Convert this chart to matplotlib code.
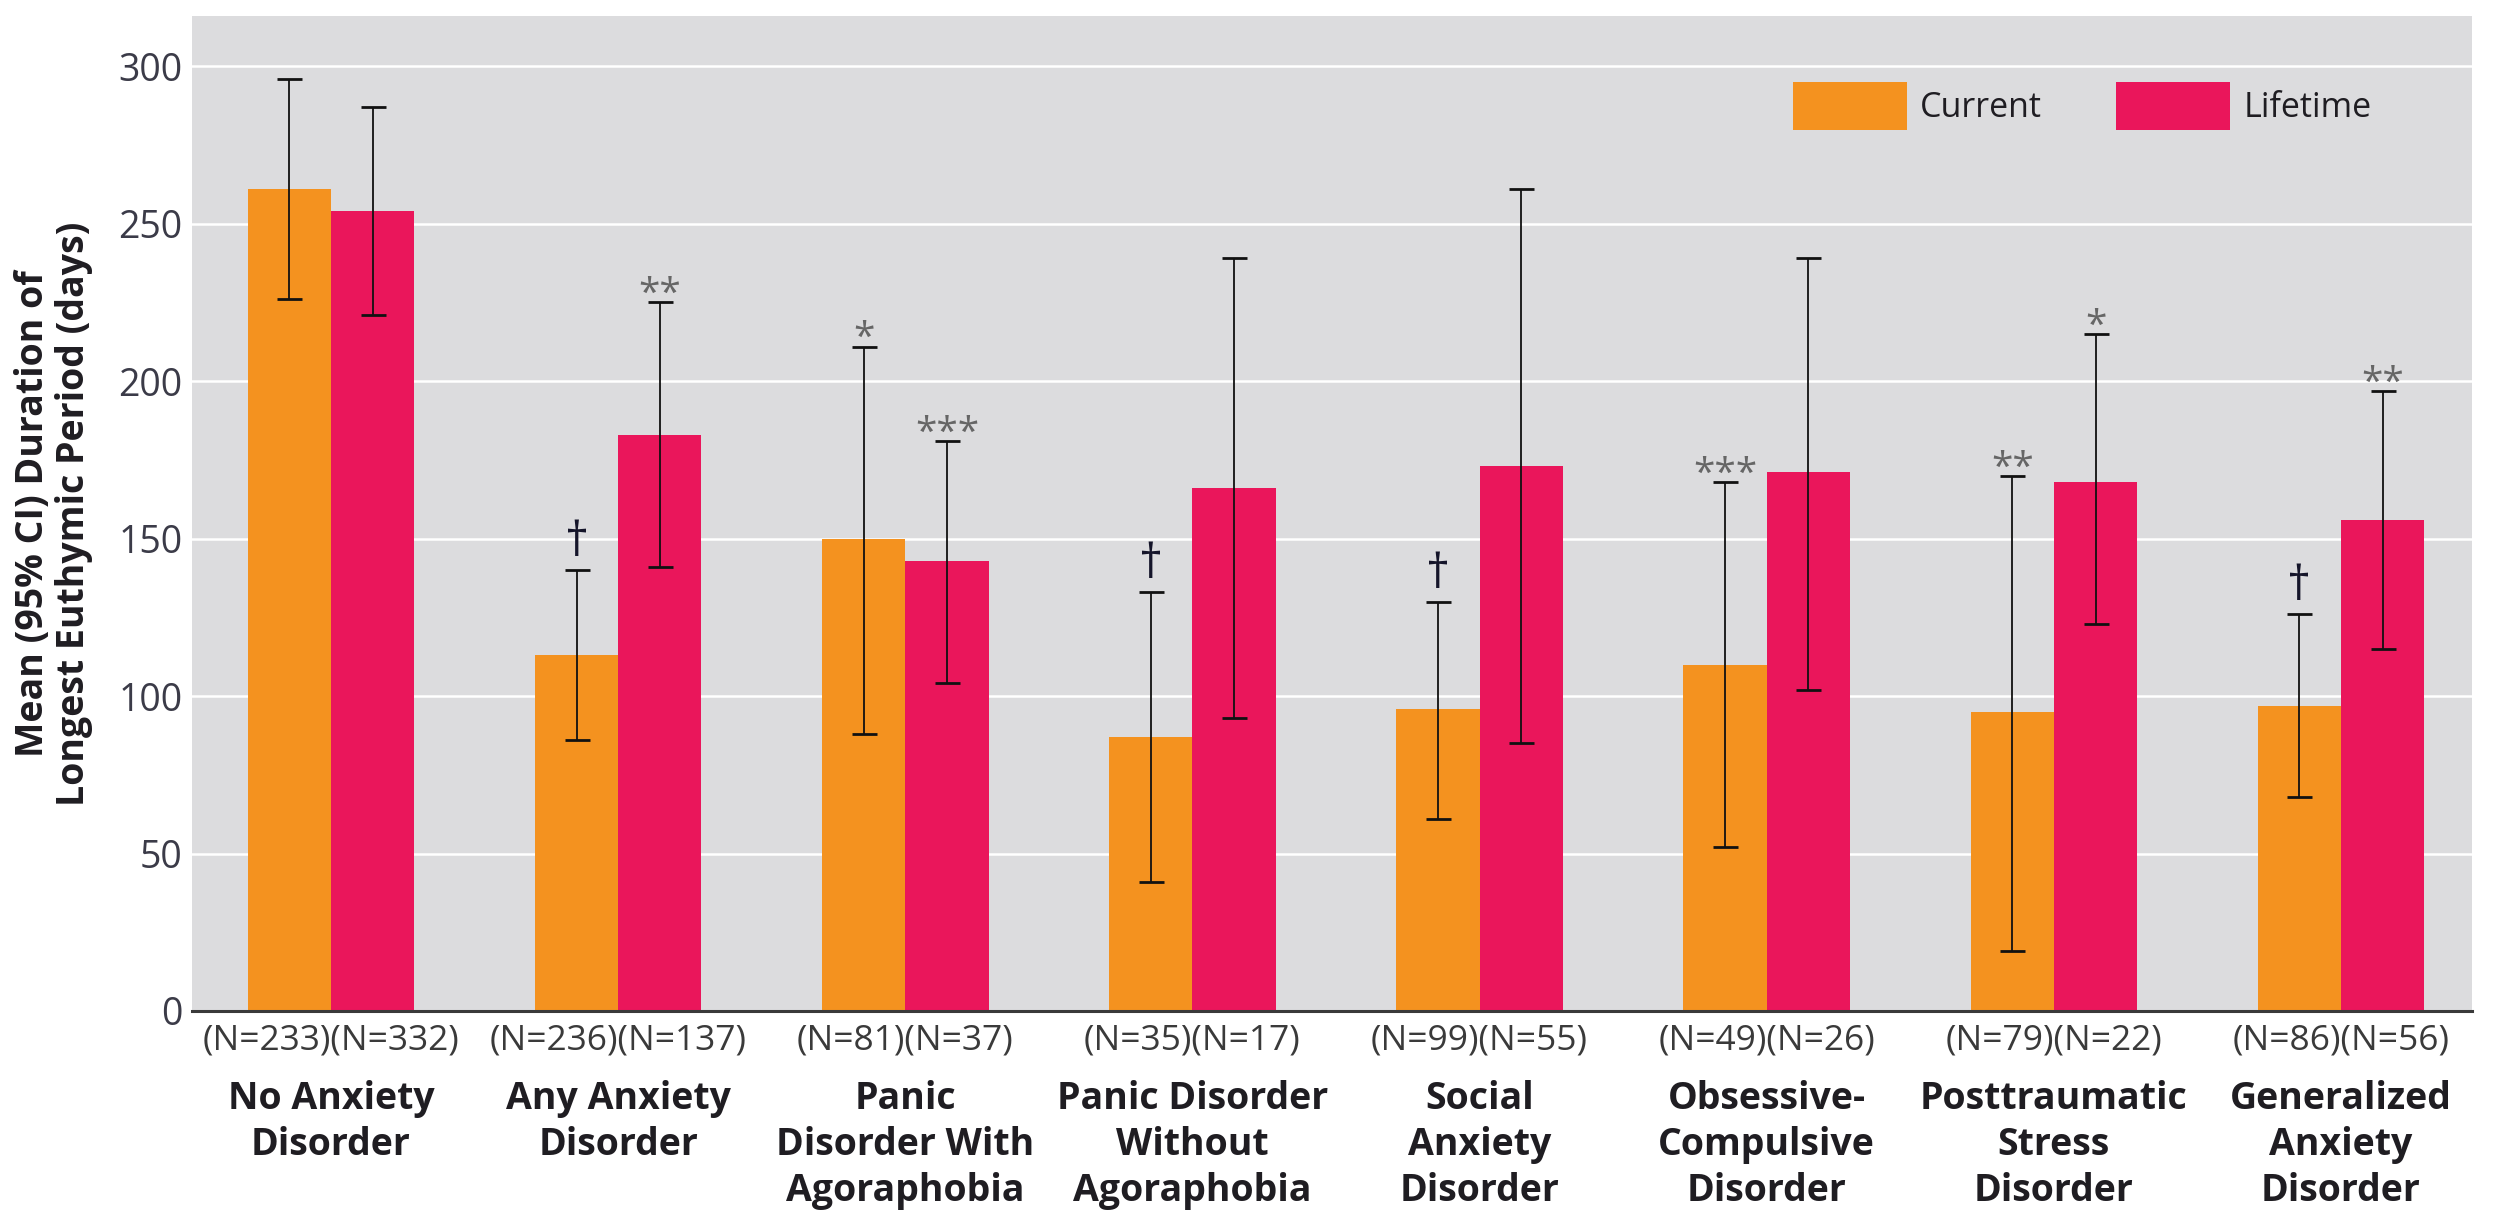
import numpy as np
import matplotlib
matplotlib.use("Agg")
import matplotlib.pyplot as plt

plt.rcParams['font.family'] = ['Open Sans', 'DejaVu Sans']

# groups and sample sizes
categories = ["No Anxiety\nDisorder", "Any Anxiety\nDisorder", "Panic\nDisorder With\nAgoraphobia",
              "Panic Disorder\nWithout\nAgoraphobia", "Social\nAnxiety\nDisorder",
              "Obsessive-\nCompulsive\nDisorder", "Posttraumatic\nStress\nDisorder",
              "Generalized\nAnxiety\nDisorder"]
n_current = [233, 236, 81, 35, 99, 49, 79, 86]
n_lifetime = [332, 137, 37, 17, 55, 26, 22, 56]

# mean and 95% CI (days)
current_mean = [261, 113, 150, 87, 96, 110, 95, 97]
current_lo = [226, 86, 88, 41, 61, 52, 19, 68]
current_hi = [296, 140, 211, 133, 130, 168, 170, 126]
lifetime_mean = [254, 183, 143, 166, 173, 171, 168, 156]
lifetime_lo = [221, 141, 104, 93, 85, 102, 123, 115]
lifetime_hi = [287, 225, 181, 239, 261, 239, 215, 197]

current_sig = ["", "\u2020", "*", "\u2020", "\u2020", "***", "**", "\u2020"]
lifetime_sig = ["", "**", "***", "", "", "", "*", "**"]

ORANGE = "#F4921F"
PINK = "#EA165B"
BG = "#DCDCDE"
TXT = "#1f1d22"

fig = plt.figure(figsize=(25.01, 12.21), dpi=100)
ax = fig.add_axes([0.0768, 0.172, 0.9116, 0.815])
ax.set_facecolor(BG)

x = np.arange(len(categories))
w = 0.29
cm = np.array(current_mean)
lm = np.array(lifetime_mean)

ax.bar(x - w / 2, cm, w, color=ORANGE, label="Current", zorder=2)
ax.bar(x + w / 2, lm, w, color=PINK, label="Lifetime", zorder=2)

ekw = dict(fmt="none", ecolor="#111111", elinewidth=1.3, capsize=9, capthick=2, zorder=3)
ax.errorbar(x - w / 2, cm, yerr=[cm - np.array(current_lo), np.array(current_hi) - cm], **ekw)
ax.errorbar(x + w / 2, lm, yerr=[lm - np.array(lifetime_lo), np.array(lifetime_hi) - lm], **ekw)

# significance markers above the upper CI
for xs, hi, marks in [(x - w / 2, current_hi, current_sig), (x + w / 2, lifetime_hi, lifetime_sig)]:
    for xi, h, m in zip(xs, hi, marks):
        if not m:
            continue
        if m == "\u2020":
            ax.annotate(m, (xi, h), xytext=(0, 10), textcoords="offset points",
                        ha="center", va="baseline", fontsize=34, color="#15152a", zorder=4)
        else:
            ax.annotate(m, (xi, h), xytext=(0, -2), textcoords="offset points",
                        ha="center", va="baseline", fontsize=28, color="#666666", zorder=4)

ax.set_xlim(-0.484, 7.456)
ax.set_ylim(0, 316)
ax.set_yticks([0, 50, 100, 150, 200, 250, 300])
ax.yaxis.grid(True, color="white", linewidth=1.8)
ax.set_axisbelow(True)
for s in ["top", "right", "left"]:
    ax.spines[s].set_visible(False)
ax.spines["bottom"].set_color("#3a3a3a")
ax.spines["bottom"].set_linewidth(2.2)
ax.spines["bottom"].set_zorder(5)

ax.tick_params(axis="y", length=0, pad=7, labelsize=27, labelcolor="#3b3b48")
ax.set_xticks(x)
ax.set_xticklabels([f"(N={a})(N={b})" for a, b in zip(n_current, n_lifetime)])
ax.tick_params(axis="x", length=0, pad=9, labelsize=25.5, labelcolor="#3a3a3a")

for xi, name in zip(x, categories):
    ax.annotate(name, (xi, 0), xycoords=("data", "axes fraction"), xytext=(0, -50),
                textcoords="offset points", ha="center", va="top", fontsize=27,
                fontweight="bold", color=TXT, linespacing=1.26)

ax.set_ylabel("Mean (95% CI) Duration of\nLongest Euthymic Period (days)", fontsize=27,
              fontweight="bold", color=TXT, labelpad=18, linespacing=1.1)

ax.legend(loc="upper left", bbox_to_anchor=(0.702, 0.934), ncol=2, frameon=False,
          fontsize=24.5, handlelength=3.35, handleheight=1.8, handletextpad=0.38,
          columnspacing=2.2, borderpad=0, borderaxespad=0, labelcolor=TXT)

fig.savefig("out.png", dpi=100, facecolor="white")
